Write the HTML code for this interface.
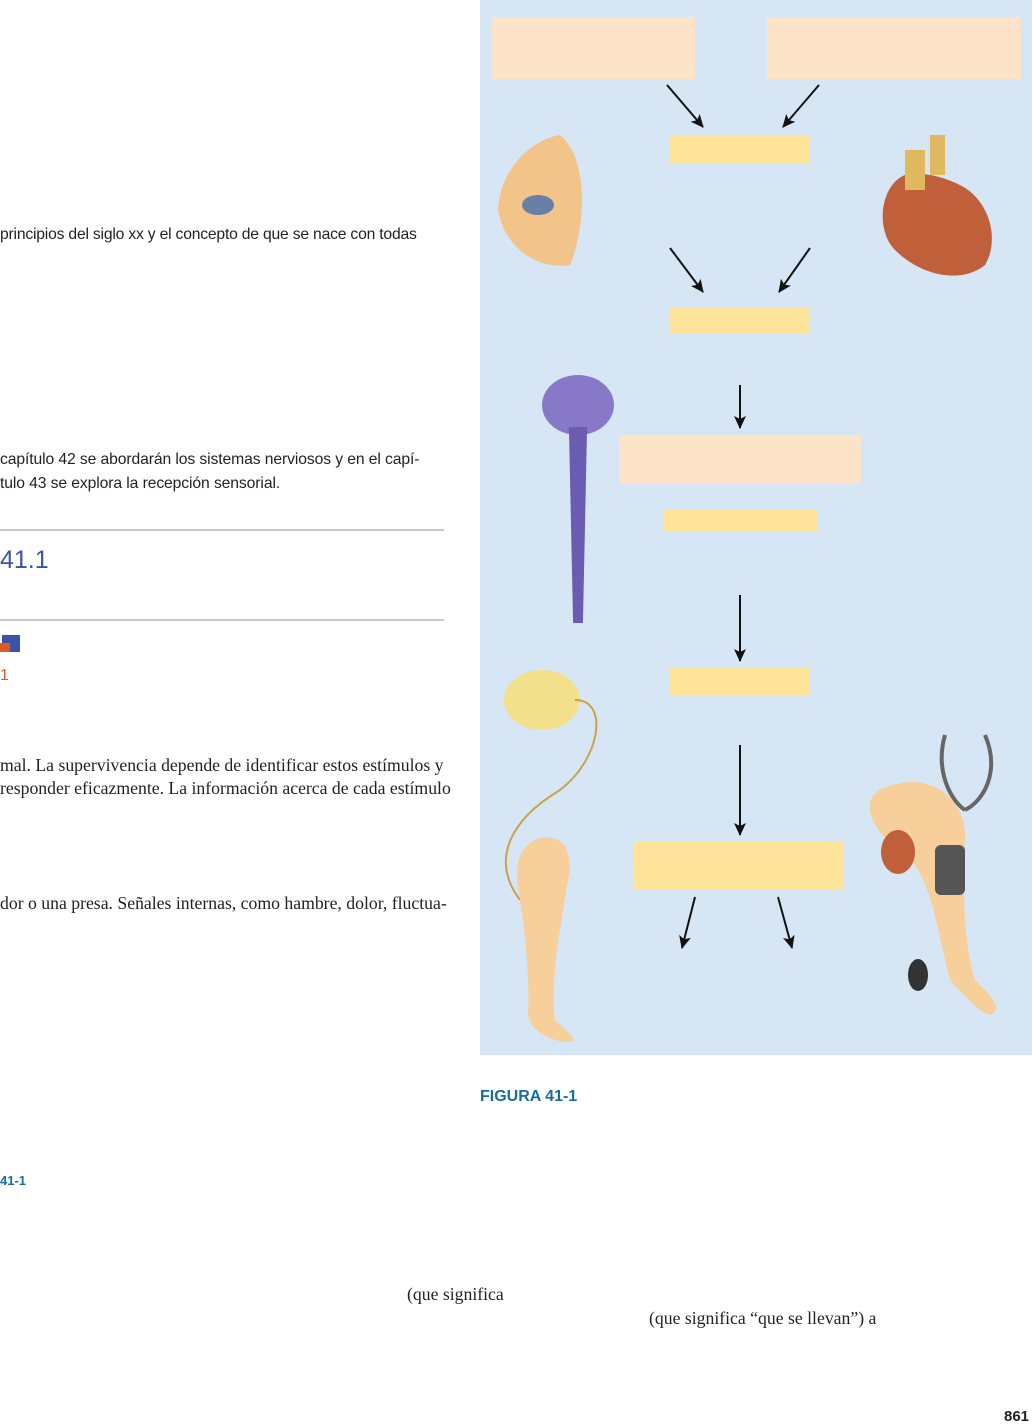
<!DOCTYPE html>
<html><head><meta charset="utf-8"><style>
body{margin:0;width:1032px;height:1424px;background:#fff;position:relative;overflow:hidden;font-family:"Liberation Sans",sans-serif;}
.t{position:absolute;white-space:nowrap;color:#231f20;}
.s{font-size:15.7px;letter-spacing:-0.1px;}
.sf{font-family:"Liberation Serif",serif;font-size:17.7px;}
.b{position:absolute;}
.pe{background:#fde3c8;}
.ye{background:#fde49a;}
</style></head><body>
<div class="b" style="left:480px;top:0;width:552px;height:1055px;background:#d6e6f5"></div>
<div class="b pe" style="left:492px;top:17px;width:203px;height:62px"></div>
<div class="b pe" style="left:767px;top:17px;width:254px;height:62px"></div>
<div class="b ye" style="left:670px;top:135px;width:139px;height:28px"></div>
<div class="b ye" style="left:670px;top:307px;width:139px;height:27px"></div>
<div class="b pe" style="left:619px;top:435px;width:242px;height:48px"></div>
<div class="b ye" style="left:663px;top:509px;width:154px;height:22px"></div>
<div class="b ye" style="left:670px;top:667px;width:139px;height:28px"></div>
<div class="b ye" style="left:633px;top:841px;width:210px;height:48px"></div>
<svg class="b" style="left:0;top:0" width="1032" height="1424">
<defs><marker id="a" markerWidth="14" markerHeight="12" refX="12" refY="6" orient="auto" markerUnits="userSpaceOnUse"><path d="M0,0 L13,6 L0,12 L3,6 Z" fill="#111"/></marker></defs>
<g stroke="#111" stroke-width="2" marker-end="url(#a)">
<line x1="667" y1="85" x2="703" y2="127"/><line x1="819" y1="85" x2="783" y2="127"/>
<line x1="670" y1="248" x2="703" y2="292"/><line x1="810" y1="248" x2="779" y2="292"/>
<line x1="740" y1="385" x2="740" y2="428"/>
<line x1="740" y1="595" x2="740" y2="661"/>
<line x1="740" y1="745" x2="740" y2="835"/>
<line x1="695" y1="897" x2="682" y2="948"/><line x1="778" y1="897" x2="792" y2="948"/>
</g>
<path d="M560,135 C590,160 585,230 570,265 C540,270 505,250 498,210 C500,170 530,140 560,135Z" fill="#f2c48a"/>
<ellipse cx="538" cy="205" rx="16" ry="10" fill="#6a7fa8"/>
<path d="M905,175 C880,185 875,230 895,250 C920,275 960,285 985,265 C1000,240 990,200 960,185 C940,175 920,172 905,175Z" fill="#c0603a"/>
<path d="M905,150 h20 v40 h-20z M930,135 h15 v40 h-15z" fill="#e0b860"/>
<ellipse cx="578" cy="405" rx="36" ry="30" fill="#8878c8"/>
<path d="M572,430 L584,430 L580,620 L576,620Z" fill="#6a5cb0" stroke="#6a5cb0" stroke-width="6"/>
<ellipse cx="542" cy="700" rx="38" ry="30" fill="#f3e08a"/>
<path d="M575,700 C610,700 600,760 560,790 C510,820 490,860 520,900" stroke="#c9a24a" stroke-width="2" fill="none"/>
<path d="M535,840 C560,830 575,850 568,880 C560,930 550,980 555,1020 C565,1030 580,1040 570,1042 C550,1042 530,1030 528,1015 C530,980 525,930 520,900 C515,870 515,850 535,840Z" fill="#f7cf9a"/>
<path d="M880,790 C920,770 960,790 965,830 C965,880 960,930 975,980 C990,995 1005,1010 990,1015 C975,1010 960,990 950,980 C935,920 930,870 900,850 C870,830 860,800 880,790Z" fill="#f7cf9a"/>
<ellipse cx="898" cy="852" rx="17" ry="22" fill="#c0603a"/>
<rect x="935" y="845" width="30" height="50" rx="6" fill="#555"/>
<ellipse cx="918" cy="975" rx="10" ry="16" fill="#333"/>
<path d="M945,735 C935,770 950,800 965,810 M985,735 C1000,770 985,800 965,810" stroke="#666" stroke-width="4" fill="none"/>
<line x1="0" y1="530" x2="444" y2="530" stroke="#c8c8c8" stroke-width="2"/>
<line x1="0" y1="620" x2="444" y2="620" stroke="#c8c8c8" stroke-width="2"/>
<rect x="2" y="635" width="18" height="17" fill="#3a55a5"/>
<rect x="0" y="643" width="10" height="9" fill="#e0582a"/>
</svg>
<div class="t s" style="left:0;top:226px;letter-spacing:-0.2px">principios del siglo xx y el concepto de que se nace con todas</div>
<div class="t s" style="left:0;top:451px">capítulo 42 se abordarán los sistemas nerviosos y en el capí-</div>
<div class="t s" style="left:0;top:475px">tulo 43 se explora la recepción sensorial.</div>
<div class="t" style="left:0;top:546px;font-size:25px;color:#3b55a0">41.1</div>
<div class="t" style="left:0;top:667px;font-size:16px;color:#e0582a">1</div>
<div class="t sf" style="left:0;top:755px">mal. La supervivencia depende de identificar estos estímulos y</div>
<div class="t sf" style="left:0;top:778px">responder eficazmente. La información acerca de cada estímulo</div>
<div class="t sf" style="left:0;top:893px">dor o una presa. Señales internas, como hambre, dolor, fluctua-</div>
<div class="t" style="left:480px;top:1088px;font-size:16px;font-weight:bold;color:#1a6d9a">FIGURA 41-1</div>
<div class="t" style="left:0;top:1173px;font-size:13px;font-weight:bold;color:#1a6d9a">41-1</div>
<div class="t sf" style="left:407px;top:1284px">(que significa</div>
<div class="t sf" style="left:649px;top:1308px">(que significa “que se llevan”) a</div>
<div class="t" style="left:1004px;top:1408px;font-size:15px;font-weight:bold">861</div>
</body></html>
